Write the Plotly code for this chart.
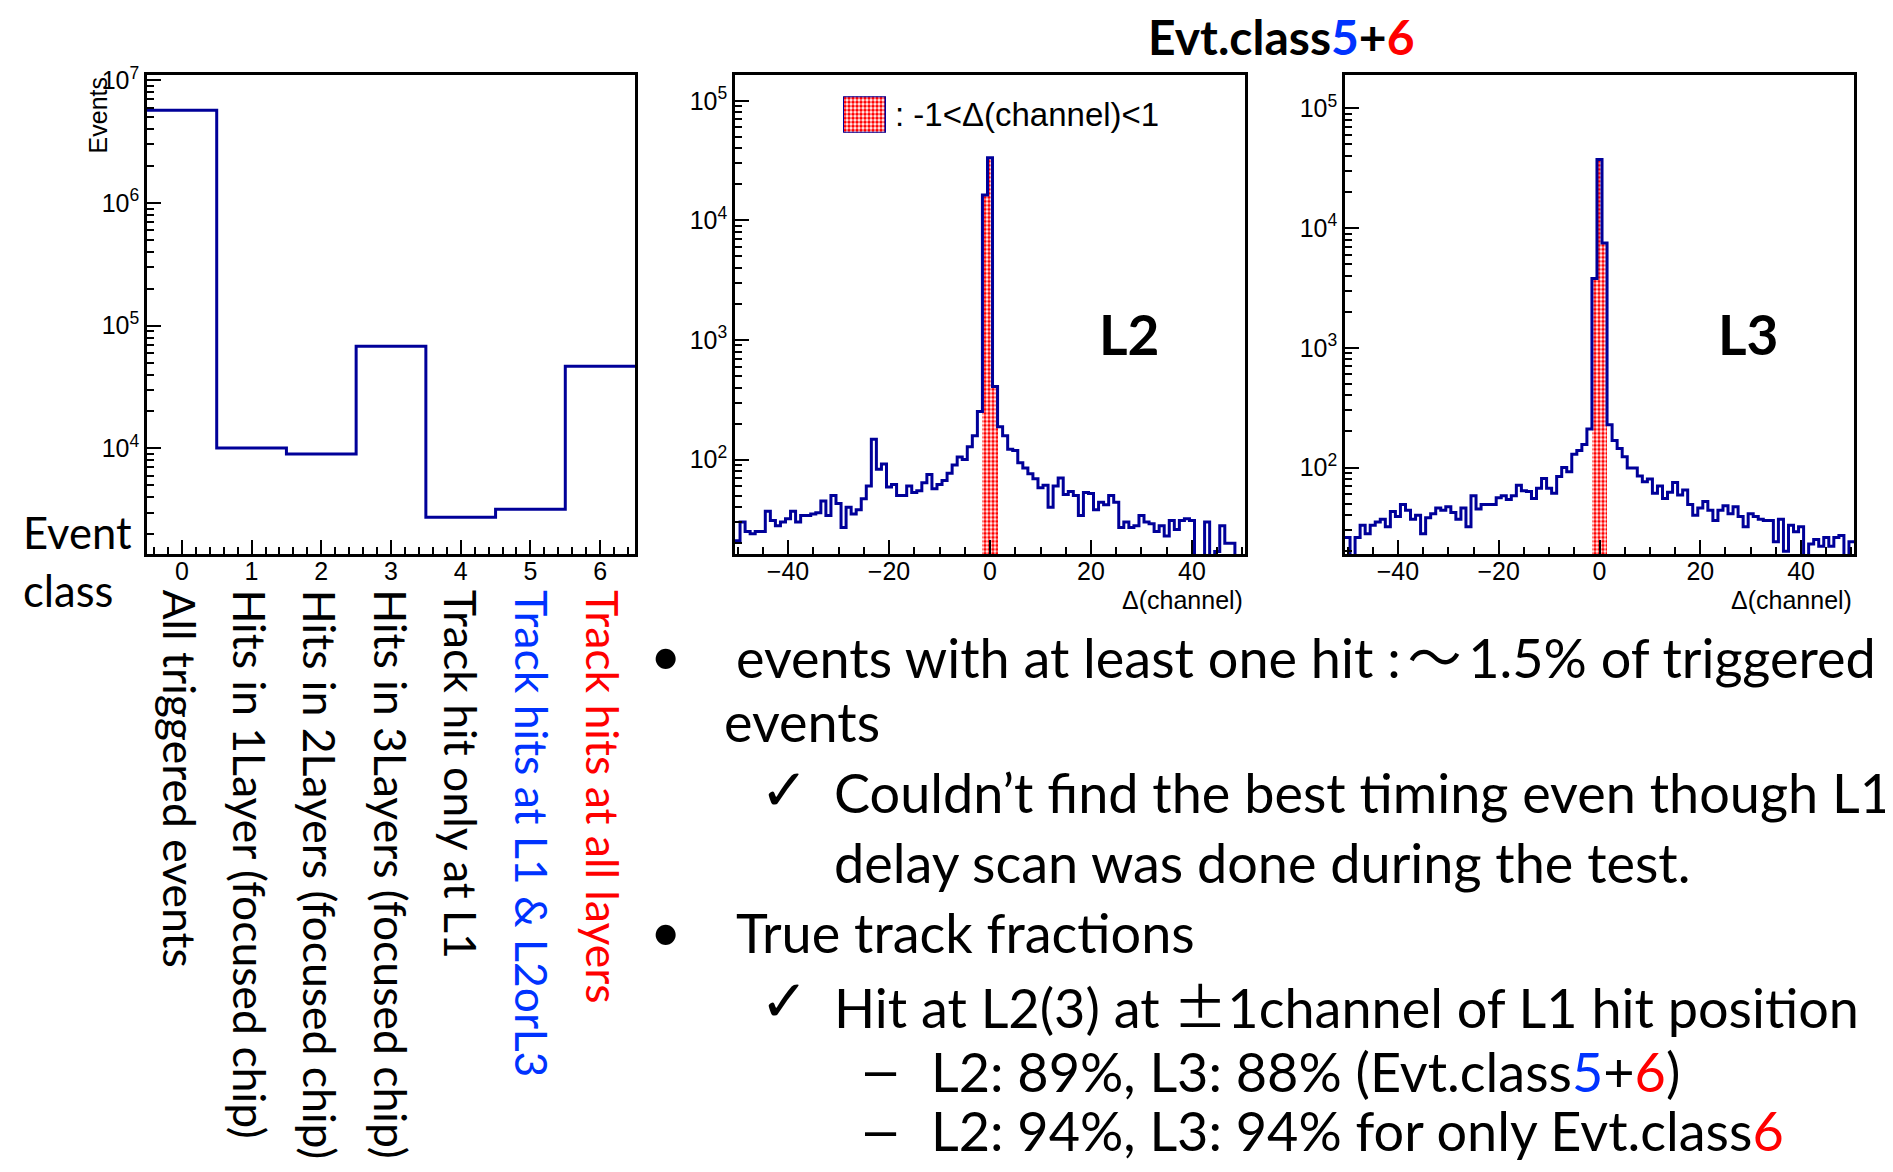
import plotly.graph_objects as go

W, H = 1893, 1172
# the page places the figure with an offset; compensate so the picture lands on the window
OFF_X, OFF_Y = 8, 17
FW, FH = W - OFF_X, H - OFF_Y

NAVY = "#000099"
RED = "#FF0000"
BLUE = "#0033FF"
TXT_FONT = "Lato, 'Open Sans', sans-serif"
ROOT_FONT = "'Liberation Sans', Arial, Helvetica, sans-serif"

# ---------------- data ----------------
event_class = [0, 1, 2, 3, 4, 5, 6]
event_counts = [5.7e6, 1.01e4, 9.0e3, 6.8e4, 2.75e3, 3.19e3, 4.68e4]
class_labels = [
    "All triggered events",
    "Hits in 1Layer (focused chip)",
    "Hits in 2Layers (focused chip)",
    "Hits in 3Layers (focused chip)",
    "Track hit only at L1",
    "Track hits at L1 &amp; L2orL3",
    "Track hits at all layers",
]
class_colors = ["black", "black", "black", "black", "black", BLUE, RED]

channels = list(range(-50, 51))
l2_left = [21, 30, 25, 24, 25, 25, 37, 31, 28, 30, 32, 37, 30, 34, 34, 35, 36, 45, 34, 50,
           43, 27, 40, 35, 38, 47, 60, 148, 83, 92, 59, 62, 50, 50, 60, 53, 55, 64, 75, 57,
           62, 67, 77, 90, 105, 100, 128, 158, 252]
l2_center = [16300, 33400, 409]
l2_right = [188, 158, 122, 119, 94, 85, 76, 69, 58, 61, 40, 60, 70, 51, 54, 50, 34, 53, 52, 38,
            44, 42, 50, 44, 27, 30, 27, 28, 34, 30, 29, 25, 28, 23, 31, 26, 31, 32, 31, 0,
            0, 30, 0, 17, 28, 20, 20, 0, 0]
l3_left = [26, 0, 26, 33, 28, 33, 35, 37, 32, 43, 39, 49, 44, 37, 40, 28, 38, 41, 46, 44,
           47, 42, 37, 46, 32, 58, 45, 49, 49, 49, 56, 58, 54, 58, 71, 64, 63, 55, 67, 81,
           67, 61, 84, 100, 92, 129, 139, 156, 210]
l3_center = [3800, 37500, 7500]
l3_right = [228, 168, 144, 123, 99, 99, 85, 76, 80, 61, 70, 55, 62, 75, 59, 65, 49, 40, 46, 52,
            44, 36, 44, 48, 41, 47, 39, 32, 41, 39, 37, 36, 36, 24, 37, 20, 33, 29, 32, 0,
            23, 25, 22, 26, 22, 26, 27, 0, 24]
l2_counts = l2_left + l2_center + l2_right
l3_counts = l3_left + l3_center + l3_right
window_channels = [-1, 0, 1]

x_ticks_ch = [-40, -20, 0, 20, 40]
x_ticktext_ch = ["\u221240", "\u221220", "0", "20", "40"]


def step_xy(centers, counts, floor=1.0):
    edges = [c - 0.5 for c in centers] + [centers[-1] + 0.5]
    ys = [v if v > 0 else floor for v in counts]
    return edges, ys + [ys[-1]]


def px(x):
    return (x - OFF_X) / FW


def py(y):
    return 1 - (y - OFF_Y) / FH


fig = go.Figure()

PATTERN = dict(shape=".", fgcolor=RED, bgcolor="white", size=4, solidity=0.6, fillmode="replace")

# left histogram
ex, ey = step_xy(event_class, event_counts)
fig.add_trace(go.Scatter(x=ex, y=ey, mode="lines", line=dict(color=NAVY, width=3, shape="hv"),
                         xaxis="x", yaxis="y", showlegend=False, hoverinfo="skip"))

# L2 / L3 histograms
for counts, xa, ya in [(l2_counts, "x2", "y2"), (l3_counts, "x3", "y3")]:
    win = [counts[channels.index(c)] for c in window_channels]
    fig.add_trace(go.Bar(x=window_channels, y=win, width=1, xaxis=xa, yaxis=ya,
                         marker=dict(color="white", line=dict(width=0), pattern=PATTERN),
                         showlegend=False, hoverinfo="skip"))
    sx, sy = step_xy(channels, counts)
    fig.add_trace(go.Scatter(x=sx, y=sy, mode="lines", line=dict(color=NAVY, width=3, shape="hv"),
                             xaxis=xa, yaxis=ya, showlegend=False, hoverinfo="skip"))

# legend swatch (own tiny axes)
fig.add_trace(go.Bar(x=[0], y=[1], width=1, xaxis="x4", yaxis="y4", cliponaxis=False,
                     marker=dict(color="white", line=dict(width=2.5, color=NAVY), pattern=PATTERN),
                     showlegend=False, hoverinfo="skip"))

ydom = [py(556), py(72)]
axis_common = dict(showline=True, linecolor="black", linewidth=2.5, mirror=True, ticks="inside",
                   tickcolor="black", tickwidth=1.8, ticklen=14, showgrid=False, zeroline=False,
                   tickfont=dict(family=ROOT_FONT, size=25, color="black"))
minor_common = dict(ticks="inside", ticklen=7, tickcolor="black", tickwidth=1.8)


def log_minor(lo, hi):
    vals = []
    for n in range(lo, hi + 1):
        for k in range(2, 10):
            vals.append(k * 10 ** n)
    return vals


def sup_labels(exps):
    return ["10<sup>%d</sup>" % e for e in exps]


layout = dict(
    width=FW, height=FH, margin=dict(l=0, r=0, t=0, b=0), autosize=False,
    paper_bgcolor="white", plot_bgcolor="white", showlegend=False, bargap=0,
    xaxis=dict(domain=[px(147), px(635)], range=[-0.5, 6.5], anchor="y",
               tickvals=event_class, ticktext=[str(c) for c in event_class], ticklabelstandoff=-7,
               minor=dict(dtick=0.2, tick0=0, **minor_common), **axis_common),
    yaxis=dict(domain=ydom, type="log", range=[3.14, 7.04], anchor="x",
               tickvals=[1e4, 1e5, 1e6, 1e7], ticktext=sup_labels([4, 5, 6, 7]),
               minor=dict(tickmode="array", tickvals=log_minor(3, 6), **minor_common), **axis_common),
    xaxis2=dict(domain=[px(735), px(1245)], range=[-50.5, 50.5], anchor="y2",
                tickvals=x_ticks_ch, ticktext=x_ticktext_ch, ticklabelstandoff=-7,
                minor=dict(dtick=5, tick0=0, **minor_common), **axis_common),
    yaxis2=dict(domain=ydom, type="log", range=[1.211, 5.213], anchor="x2",
                tickvals=[1e2, 1e3, 1e4, 1e5], ticktext=sup_labels([2, 3, 4, 5]),
                minor=dict(tickmode="array", tickvals=log_minor(1, 5), **minor_common), **axis_common),
    xaxis3=dict(domain=[px(1345), px(1854)], range=[-50.5, 50.5], anchor="y3",
                tickvals=x_ticks_ch, ticktext=x_ticktext_ch, ticklabelstandoff=-7,
                minor=dict(dtick=5, tick0=0, **minor_common), **axis_common),
    yaxis3=dict(domain=ydom, type="log", range=[1.278, 5.276], anchor="x3",
                tickvals=[1e2, 1e3, 1e4, 1e5], ticktext=sup_labels([2, 3, 4, 5]),
                minor=dict(tickmode="array", tickvals=log_minor(1, 5), **minor_common), **axis_common),
    xaxis4=dict(domain=[px(843), px(886)], range=[-0.5, 0.5], anchor="y4", visible=False),
    yaxis4=dict(domain=[py(130), py(93)], range=[0, 1], anchor="x4", visible=False),
)
fig.update_layout(**layout)

ann = []


def text(x, y, s, size, color="black", family=TXT_FONT, xanchor="left", yanchor="middle",
         angle=0, bold=False):
    if bold:
        s = "<b>" + s + "</b>"
    ann.append(dict(x=px(x), y=py(y), xref="paper", yref="paper", text=s, showarrow=False,
                    xanchor=xanchor, yanchor=yanchor, textangle=angle,
                    font=dict(family=family, size=size, color=color)))


def c(s, col):
    return '<span style="color:%s">%s</span>' % (col, s)


def cjk(s):
    return '<span style="font-family:Noto Sans CJK JP">%s</span>' % s


# ROOT texts
text(98, 72, "Events", 25, family=ROOT_FONT, xanchor="center", yanchor="top", angle=-90)
text(1245, 603, "\u0394(channel)", 25, family=ROOT_FONT, xanchor="right")
text(1854, 603, "\u0394(channel)", 25, family=ROOT_FONT, xanchor="right")
text(893, 112, ": -1<\u0394(channel)<1", 33, family=ROOT_FONT)
text(1129, 334, "L2", 55, xanchor="center", bold=True)
text(1748, 334, "L3", 55, xanchor="center", bold=True)
text(1146, 33, "Evt.class" + c("5", BLUE) + "+" + c("6", RED), 48, bold=True)

# event class annotations
text(21, 534, "Event", 43.5)
text(21, 592, "class", 43.5)
for i, (lab, col) in enumerate(zip(class_labels, class_colors)):
    text(180 + i * 70.6, 590, lab, 44.5, color=col, xanchor="center", yanchor="top", angle=90)

# bullet text
BS = 54
text(648, 658, "\u2022", BS)
text(734, 658, "events with at least one hit :\u2009" + cjk("\uff5e") + "\u20091.5% of triggered", BS)
text(722, 725, "events", BS)
text(758, 792, "\u2713", 58)
text(832, 797, "Couldn\u2019t find the best timing even though L1", BS)
text(832, 868, "delay scan was done during the test.", BS)
text(648, 937, "\u2022", BS)
text(734, 939, "True track fractions", BS)
text(758, 1006, "\u2713", 58)
text(832, 1012, "Hit at L2(3) at " + cjk("\u00b1") + "1channel of L1 hit position", BS)
text(863, 1076, "\u2013", 56, family=ROOT_FONT)
text(929, 1079, "L2: 89%, L3: 88% (Evt.class" + c("5", BLUE) + "+" + c("6", RED) + ")", BS)
text(863, 1137, "\u2013", 56, family=ROOT_FONT)
text(929, 1139, "L2: 94%, L3: 94% for only Evt.class" + c("6", RED), BS)

fig.update_layout(annotations=ann)
fig.write_html("out.html")
